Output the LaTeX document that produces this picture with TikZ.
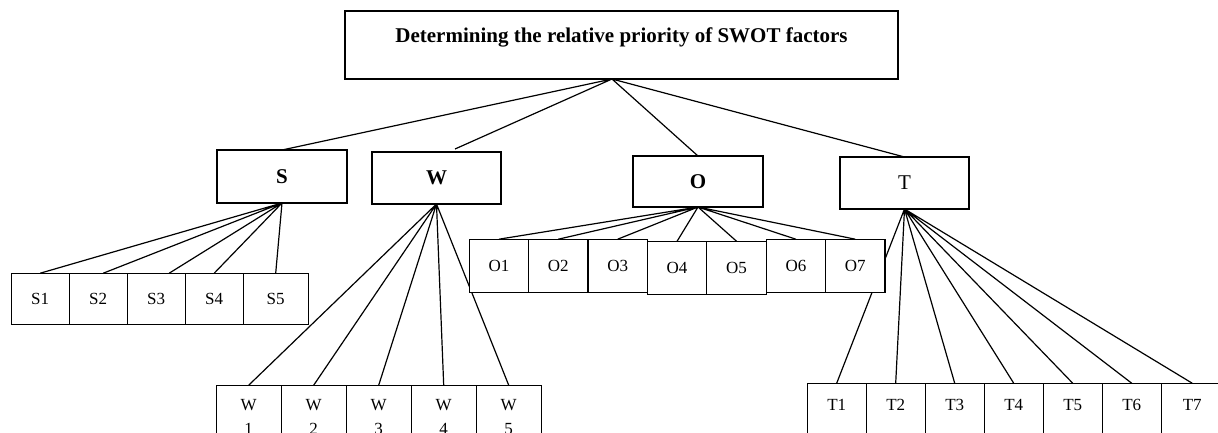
\documentclass[tikz,border=0pt]{standalone}
\usepackage{fontspec}
\setmainfont{Liberation Serif}
\usetikzlibrary{matrix}
\usetikzlibrary{backgrounds}

\begin{document}
\begin{tikzpicture}[x=1pt, y=1pt, line width=1.2pt
  , box/.style={draw, fill=white, inner sep=0pt, outer sep=0pt}
  , factor/.style={box, minimum width=129pt, minimum height=52pt
                  , font=\fontsize{21}{25}\selectfont\bfseries}
  , item/.style={box, anchor=north, font=\fontsize{17}{24}\selectfont}
  , link/.style={line width=1.2pt}
  ]

  \useasboundingbox (0,0) rectangle (1218,-432);

  \node (goal) [box, minimum width=553pt, minimum height=68pt, text depth=20pt
               , font=\fontsize{21}{25}\selectfont\bfseries] at (621.5,-45)
    {Determining the relative priority of SWOT factors};

  \node (s) [factor, minimum width=130pt, minimum height=53pt] at (282,-176.5) {S};
  \node (w) [factor] at (436.5,-178) {W};
  \node (o) [factor, minimum width=130pt, minimum height=51pt] at (698,-181.5) {O};
  \node (t) [factor, font=\fontsize{21}{25}\selectfont] at (904.5,-183) {T};

  \matrix (srow) [matrix of nodes, anchor=north west, inner sep=0pt
    , nodes={item, minimum height=51pt, minimum width=58pt}
    , column sep=-\pgflinewidth % collapse borders
    ] at (10,-272)
  {
    |(s1)| S1 & |(s2)| S2 & |(s3)| S3 & |(s4)| S4 & |(s5)[minimum width=65pt]| S5 \\
  };

  \matrix (orow) [matrix of nodes, anchor=north west, inner sep=0pt
    , nodes={item, minimum height=53pt, minimum width=59.4pt}
    , column sep=-\pgflinewidth
    ] at (468,-238)
  {
    |(o1)| O1 & |(o2)| O2 & |(o3)| O3 & |(o4)[yshift=-2pt]| O4 &
      |(o5)[yshift=-2pt]| O5 & |(o6)| O6 & |(o7)| O7 \\
  };

  \matrix (wrow) [matrix of nodes, anchor=north west, inner sep=0pt
    , nodes={item, minimum width=65pt, text width=20pt, align=center
            , inner ysep=14pt}
    , column sep=-\pgflinewidth
    ] at (215,-384)
  {
    |(w1)| W 1 & |(w2)| W 2 & |(w3)| W 3 & |(w4)| W 4 & |(w5)| W 5 \\
  };

  \matrix (trow) [matrix of nodes, anchor=north west, inner sep=0pt
    , nodes={item, minimum width=59pt, inner ysep=16pt, text depth=30pt}
    , column sep=-\pgflinewidth
    ] at (806,-382)
  {
    |(t1)| T1 & |(t2)| T2 & |(t3)| T3 & |(t4)| T4 & |(t5)| T5 & |(t6)| T6 &
      |(t7)[minimum width=62pt]| T7 \\
  };

  \begin{scope}[on background layer]
    \coordinate (hub) at ([xshift=-9.5pt]goal.south);
    \coordinate (wtip) at ([xshift=18.5pt, yshift=3pt]w.north);

    \draw [link] (hub) -- (s.north) (hub) -- (wtip) (hub) -- (o.north) (hub) -- (t.north);

    \draw [link] (s.south) -- (s1.north) (s.south) -- ([xshift=5pt]s2.north)
          (s.south) -- ([xshift=13pt]s3.north) (s.south) -- (s4.north)
          (s.south) -- (s5.north);
    \draw [link] (w.south) -- (w1.north) (w.south) -- (w2.north) (w.south) -- (w3.north)
          (w.south) -- (w4.north) (w.south) -- (w5.north);
    \draw [link] (o.south) -- (o1.north) (o.south) -- (o2.north) (o.south) -- (o3.north)
          (o.south) -- (o4.north) (o.south) -- (o5.north) (o.south) -- (o6.north)
          (o.south) -- (o7.north);
    \draw [link] (t.south) -- (t1.north) (t.south) -- (t2.north) (t.south) -- (t3.north)
          (t.south) -- (t4.north) (t.south) -- (t5.north) (t.south) -- (t6.north)
          (t.south) -- (t7.north);
  \end{scope}

\end{tikzpicture}
\end{document}
